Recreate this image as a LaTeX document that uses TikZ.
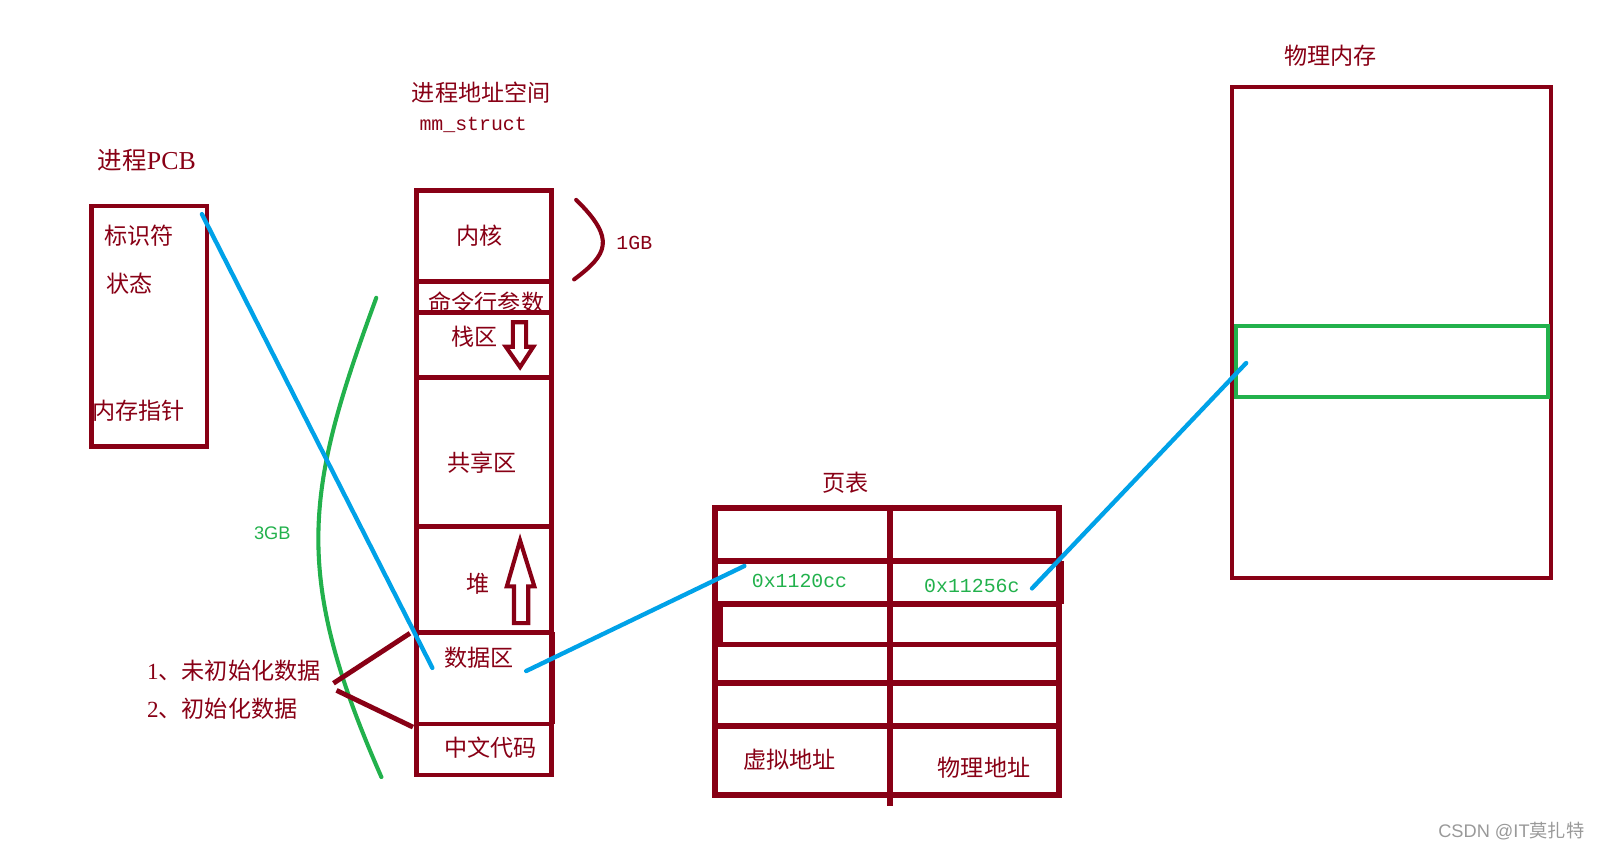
\documentclass[tikz,border=0pt]{standalone}
\usepackage{fontspec}
\setmainfont{Liberation Serif}
\setsansfont{Liberation Sans}
\setmonofont{Liberation Mono}
\newfontfamily\cjk{Noto Sans CJK SC}

\definecolor{paintred}{RGB}{136,0,21}
\definecolor{paintblue}{RGB}{0,162,232}
\definecolor{paintgreen}{RGB}{34,177,76}

\tikzset{
  redline/.style={draw=paintred, line width=3.6pt},
  tableline/.style={draw=paintred, line width=4.4pt},
  blueline/.style={draw=paintblue, line width=3.2pt, line cap=round},
  greenline/.style={draw=paintgreen, line width=3pt},
  hollowarrow/.style={draw=paintred, line width=3pt, line join=miter},
  zhtext/.style={text=paintred, inner sep=0.75pt, font=\cjk\fontsize{17}{20}\selectfont},
  hextext/.style={text=paintgreen, inner sep=0.75pt, font=\ttfamily\fontsize{14.6}{17}\selectfont},
}

\begin{document}
\begin{tikzpicture}[x=0.75pt,y=0.75pt,yscale=-1,xscale=1]
\useasboundingbox (0,0) rectangle (1568,835);

% Text Node
\node[zhtext, font=\cjk\fontsize{18}{22}\selectfont] (pcbtitle) at (144,157) {进程{\rmfamily\fontsize{19}{22}\selectfont PCB}};
%Shape: Rectangle
\draw[redline] (90,202) rectangle (203,438);
% Text Node
\node[zhtext] (ident) at (136,231) {标识符};
% Text Node
\node[zhtext] (state) at (127,278) {状态};
% Text Node
\node[zhtext] (memptr) at (136,403) {内存指针};

% Text Node
\node[zhtext] (astitle) at (472,91) {进程地址空间};
% Text Node
\node[text=paintred, inner sep=0.75pt, font=\ttfamily\fontsize{14.6}{17}\selectfont] (mmstruct) at (464,123) {mm\_struct};
% Text Node
\node[zhtext] (args) at (477,297) {命令行参数};
%Shape: Rectangle
\draw[redline] (408,187) rectangle (541,760);
\foreach \y in {276,306,370,516,620,710}
  \draw[redline] (408,\y) -- (541,\y);
\draw[redline] (542,620) -- (542,710);
% Text Node
\node[zhtext] (kernel) at (470,231) {内核};
% Text Node
\node[zhtext] (stack) at (465,330) {栈区};
% Text Node
\node[zhtext] (shared) at (473,454) {共享区};
% Text Node
\node[zhtext] (heap) at (469,572) {堆};
% Text Node
\node[zhtext] (data) at (470,645) {数据区};
% Text Node
\node[zhtext] (code) at (481,733) {中文代码};
%Shape: Down Arrow
\draw[hollowarrow] (503,316) -- (516,316) -- (516,340) -- (523,340) -- (510,360) -- (496,340) -- (503,340) -- cycle;
%Shape: Up Arrow
\draw[hollowarrow] (510,530) -- (524,575) -- (518,575) -- (518,611) -- (504,611) -- (504,575) -- (497,575) -- cycle;

%Shape: Brace
\draw[paintred, line width=3pt, line cap=round] (565,196) .. controls (605,235) and (595,250) .. (563,274);
% Text Node
\node[text=paintred, inner sep=0.75pt, font=\ttfamily\fontsize{14.6}{17}\selectfont] (onegb) at (622,238) {1GB};

%Shape: Curve
\draw[greenline, line cap=round] (369,292) .. controls (300,480) and (285,560) .. (374,762);
% Text Node
\node[text=paintgreen, inner sep=0.75pt, font=\sffamily\fontsize{13.4}{16}\selectfont] (threegb) at (267,523) {3GB};

% Text Node
\node[zhtext, anchor=west] (uninit) at (143,658) {{\rmfamily 1}、未初始化数据};
% Text Node
\node[zhtext, anchor=west] (init) at (143,695) {{\rmfamily 2}、初始化数据};
\coordinate (uninitend) at (327,670);
\coordinate (initend) at (330,677);
\coordinate (datatop) at (402,621);
\coordinate (databot) at (405,713);
\draw[redline] (uninitend) -- (datatop);
\draw[redline] (initend) -- (databot);

% Text Node
\node[zhtext] (pagetitle) at (829,473) {页表};
%Shape: Table
\draw[tableline] (701,498) rectangle (1038,780);
\foreach \y in {550,592,632,670,712}
  \draw[tableline] (701,\y) -- (1038,\y);
\draw[tableline] (873,495) -- (873,790);
\draw[tableline] (1040,550) -- (1040,592);
\draw[tableline] (706,592) -- (706,632);
% Text Node
\node[hextext] (vaddrval) at (784,570) {0x1120cc};
% Text Node
\node[hextext] (paddrval) at (953,575) {0x11256c};
% Text Node
\node[zhtext] (vaddr) at (774,745) {虚拟地址};
% Text Node
\node[zhtext] (paddr) at (965,753) {物理地址};

% Text Node
\node[zhtext] (memtitle) at (1305,55) {物理内存};
%Shape: Rectangle
\draw[redline, line width=3pt] (1208,85) rectangle (1521,567);
%Shape: Rectangle
\draw[greenline] (1212,320) rectangle (1518,389);

% links
\coordinate (ptrstart) at (198,210);
\coordinate (datain) at (424,655);
\coordinate (dataout) at (516,658);
\coordinate (vaddrin) at (730,555);
\coordinate (paddrout) at (1012,577);
\coordinate (frame) at (1222,356);
\draw[blueline] (ptrstart) -- (datain);
\draw[blueline] (dataout) -- (vaddrin);
\draw[blueline] (paddrout) -- (frame);

% Text Node
\node[text=black!40, inner sep=0.75pt, font=\sffamily\fontsize{13.4}{16}\selectfont] (mark) at (1482,815) {CSDN @IT{\cjk 莫扎特}};

\end{tikzpicture}
\end{document}
